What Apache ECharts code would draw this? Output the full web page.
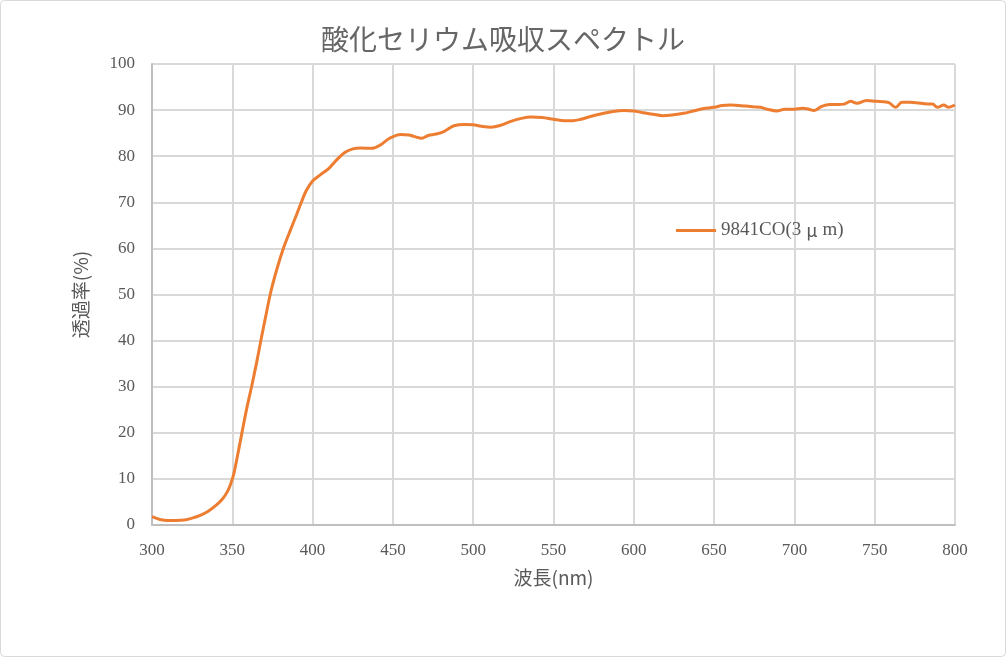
<!DOCTYPE html>
<html><head><meta charset="utf-8">
<script src="https://cdn.jsdelivr.net/npm/echarts@6/dist/echarts.min.js"></script>
<style>html,body{margin:0;padding:0;background:#fff}#c{width:1006px;height:657px}</style>
</head><body><div id="c"></div>
<script>
const titleText = '酸化セリウム吸収スペクトル';
const seriesName = '9841CO(3μm)';
const xName = '波長(nm)';
const yName = '透過率(%)';
const wavelengths = [300,305,310,315,320,325,330,335,340,344,347,349,351,353,355,357,359,362,365,368,371,374,378,382,386,390,393,396,400,405,410,415,420,425,430,437,442,448,455,460,463,468,472,477,482,488,495,500,505,511,517,523,530,536,543,550,557,562,567,573,580,587,594,600,605,612,618,625,631,637,643,650,655,660,665,670,675,679,683,689,694,700,705,709,712,717,722,727,731,735,739,745,751,756,759,763,767,772,776,783,786,789,793,796,800];
const transmittance = [1.8,1.2,1.0,1.0,1.1,1.5,2.1,3.0,4.3,5.7,7.3,8.9,11.2,14.6,18.2,21.8,25.3,30.0,35.0,40.4,45.6,50.6,55.8,60.2,63.8,67.3,70.0,72.5,74.6,76.0,77.3,79.2,80.8,81.6,81.8,81.7,82.4,83.9,84.7,84.6,84.3,83.9,84.5,84.8,85.4,86.6,86.9,86.8,86.5,86.3,86.7,87.5,88.2,88.5,88.4,88.0,87.7,87.7,88.0,88.6,89.2,89.7,89.9,89.8,89.5,89.1,88.8,89.0,89.3,89.8,90.3,90.6,91.0,91.1,91.0,90.9,90.7,90.6,90.2,89.8,90.2,90.2,90.4,90.2,89.9,90.8,91.2,91.2,91.3,91.9,91.5,92.1,91.9,91.8,91.6,90.6,91.7,91.7,91.6,91.3,91.3,90.6,91.1,90.6,91.1];

const serif = "'Liberation Serif','Noto Sans CJK JP',serif";
const cjk = "'Noto Sans CJK JP',sans-serif";
const chart = echarts.init(document.getElementById('c'));
chart.setOption({
  animation: false,
  backgroundColor: '#fff',
  graphic: [{type:'rect', shape:{x:0.5,y:0.5,width:1005,height:656,r:4}, style:{fill:'none',stroke:'#d9d9d9',lineWidth:1}, silent:true}],
  title: {text: titleText, left: 'center', top: 20, textStyle: {fontFamily: cjk, fontSize: 28, fontWeight: 'normal', color: '#666666'}},
  legend: {left: 671, top: 216, itemWidth: 40, itemHeight: 3, itemGap: 4, icon: 'rect',
    formatter: function (name) { return name.replace('μ', '{mu|μ}'); },
    textStyle: {fontFamily: serif, fontSize: 19, color: '#595959',
      rich: {mu: {fontFamily: cjk, fontSize: 18, color: '#595959', padding: [0, 5, 0, 5]}}}},
  grid: {left: 152, right: 51, top: 64, bottom: 132, containLabel: false},
  xAxis: {type: 'value', min: 300, max: 800, interval: 50,
    name: xName, nameLocation: 'middle', nameGap: 43,
    nameTextStyle: {fontFamily: cjk, fontSize: 19, color: '#595959'},
    axisLine: {show: true, lineStyle: {color: '#bfbfbf', width: 2}},
    axisTick: {show: false},
    axisLabel: {fontFamily: serif, fontSize: 17, color: '#595959', margin: 17},
    splitLine: {show: true, lineStyle: {color: '#d9d9d9', width: 2}}},
  yAxis: {type: 'value', min: 0, max: 100, interval: 10,
    name: yName, nameLocation: 'middle', nameGap: 62, nameRotate: 90,
    nameTextStyle: {fontFamily: cjk, fontSize: 19, color: '#595959'},
    axisLine: {show: true, lineStyle: {color: '#bfbfbf', width: 2}},
    axisTick: {show: false},
    axisLabel: {fontFamily: serif, fontSize: 17, color: '#595959', margin: 17},
    splitLine: {show: true, lineStyle: {color: '#d9d9d9', width: 2}}},
  series: [{name: seriesName, type: 'line', showSymbol: false, smooth: 0.35,
    lineStyle: {color: '#ED7D31', width: 3}, itemStyle: {color: '#ED7D31'},
    data: wavelengths.map((w, i) => [w, transmittance[i]])}]
});
</script></body></html>
